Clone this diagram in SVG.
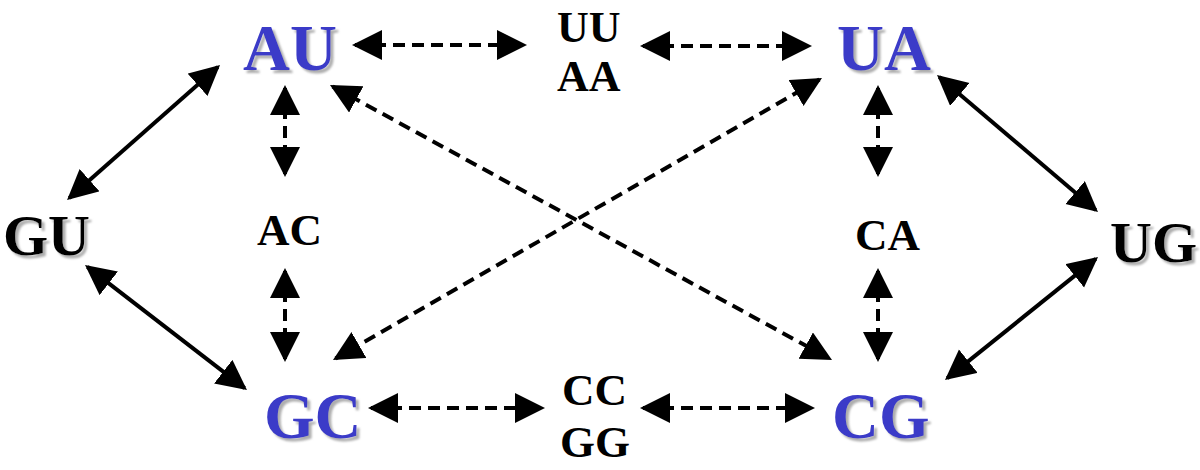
<svg xmlns="http://www.w3.org/2000/svg" width="1200" height="470" viewBox="0 0 1200 470">
<defs>
<style>
.t{font-family:"Liberation Serif","Times New Roman",serif;font-weight:bold;fill:#000}
.big{font-size:65px;fill:#3B3BC8}
.mid{font-size:58px}
.sm{font-size:45px}
.pair{font-size:44px}
.c{stroke:#000;stroke-width:4;fill:none;marker-start:url(#ah);marker-end:url(#ah)}
.d{stroke-dasharray:12,7}
</style>
<filter id="sh" x="-10%" y="-10%" width="130%" height="140%">
<feDropShadow dx="3" dy="3" stdDeviation="1.2" flood-color="#999" flood-opacity="0.8"/>
</filter>
<marker id="ah" markerUnits="userSpaceOnUse" markerWidth="32" markerHeight="32" refX="27" refY="15" orient="auto-start-reverse">
<path d="M0,0 L30,15 L0,30 z" fill="#000"/>
</marker>
</defs>
<rect width="1200" height="470" fill="#fff"/>
<g id="connectors">
<line class="c d" x1="355" y1="45" x2="524" y2="45"/>
<line class="c d" x1="643" y1="46" x2="809" y2="46"/>
<line class="c d" x1="371" y1="408" x2="542" y2="408"/>
<line class="c d" x1="643" y1="408" x2="812" y2="408"/>
<line class="c d" x1="285" y1="88" x2="285" y2="174"/>
<line class="c d" x1="285" y1="271" x2="285" y2="359"/>
<line class="c d" x1="878" y1="88" x2="878" y2="174"/>
<line class="c d" x1="878" y1="271" x2="878" y2="359"/>
<line class="c d" x1="332.6" y1="86.4" x2="829.4" y2="358.6"/>
<line class="c d" x1="819.4" y1="79.5" x2="335.6" y2="358.5"/>
<line class="c" x1="217.8" y1="67" x2="69.3" y2="198"/>
<line class="c" x1="87.4" y1="266.8" x2="244.6" y2="388.2"/>
<line class="c" x1="939.3" y1="77" x2="1095.7" y2="210"/>
<line class="c" x1="1095.7" y1="258.9" x2="947.3" y2="378.1"/>
</g>
<g id="AU" filter="url(#sh)"><text class="t big" x="243" y="70">AU</text></g>
<g id="UA" filter="url(#sh)"><text class="t big" x="837" y="70">UA</text></g>
<g id="GC" filter="url(#sh)"><text class="t big" x="264" y="438">GC</text></g>
<g id="CG" filter="url(#sh)"><text class="t big" x="832" y="438">CG</text></g>
<g id="GU" filter="url(#sh)"><text class="t mid" x="3" y="255">GU</text></g>
<g id="UG" filter="url(#sh)"><text class="t mid" x="1110" y="262">UG</text></g>
<g id="AC"><text class="t sm" x="257" y="245">AC</text></g>
<g id="CA"><text class="t sm" x="855" y="250">CA</text></g>
<g id="UUAA"><text class="t pair" x="557" y="42">UU</text><text class="t pair" x="557" y="91">AA</text></g>
<g id="CCGG"><text class="t sm" x="562" y="405">CC</text><text class="t sm" x="560" y="457">GG</text></g>
</svg>
